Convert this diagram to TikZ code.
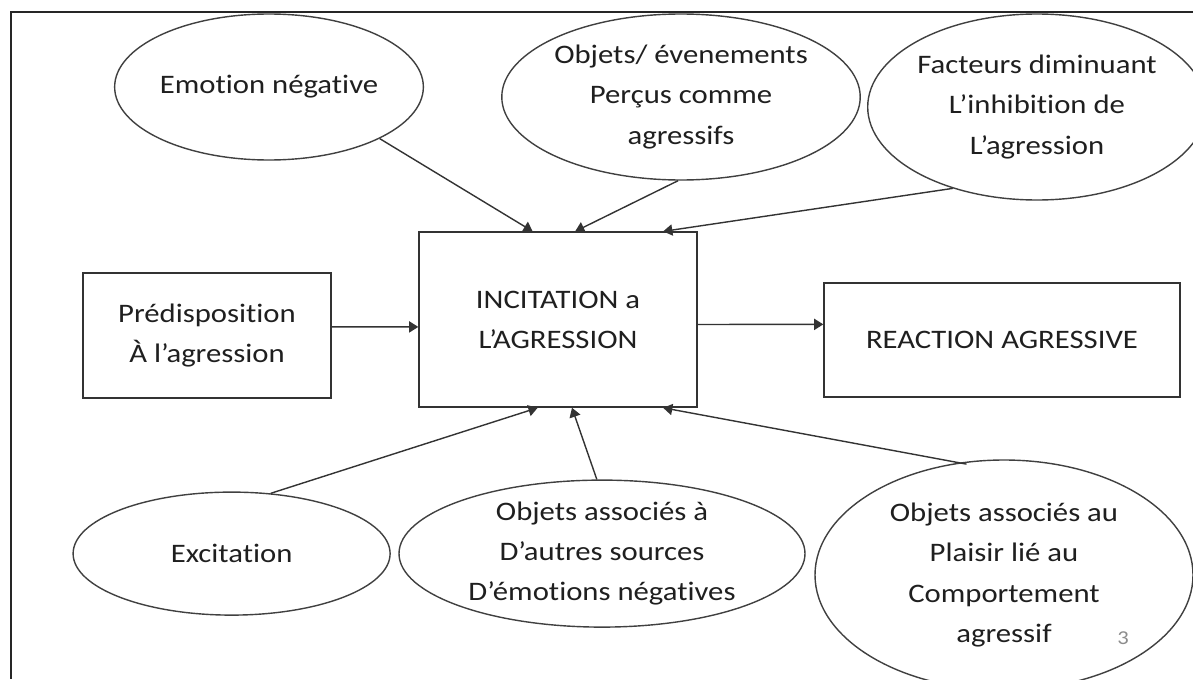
\documentclass[tikz,border=0pt]{standalone}
\usepackage{fontspec}
\setmainfont{Carlito}[FakeStretch=1.15, Ligatures=NoCommon]
\usepackage{tikz}
\usetikzlibrary{shapes, arrows.meta, positioning}
\tikzstyle{factor} = [ellipse, draw=black!75, line width=1pt, inner sep=0pt, align=center, text=black!88, font=\fontsize{19}{28.5}\selectfont]
\tikzstyle{stage} = [rectangle, draw=black!80, line width=1pt, inner sep=0pt, align=center, text=black!88, font=\fontsize{19}{28.5}\selectfont]
\tikzstyle{arrow} = [draw=black!80, line width=1pt, -{Triangle[length=2.3mm, width=2.8mm]}]

\begin{document}
\begin{tikzpicture}[node distance=6cm]
\useasboundingbox (0,0) rectangle (29.825,-16.975);
\clip (0,0) rectangle (29.825,-16.975);
\draw[line width=1.4pt, black!85] (29.825,-0.3) -- (0.275,-0.3) -- (0.275,-16.975);

\node (incit) [stage, minimum width=6.95cm, minimum height=4.375cm] at (13.95,-7.99) {INCITATION a\\L’AGRESSION};
\node (predisp) [stage, left of=incit, xshift=-2.775cm, yshift=-0.4cm, minimum width=6.2cm, minimum height=3.125cm] {Prédisposition\\À l’agression};
\node (reaction) [stage, right of=incit, xshift=5.1cm, yshift=-0.51cm, minimum width=8.9cm, minimum height=2.85cm] {REACTION AGRESSIVE};
\node (emotion) [factor, above of=incit, xshift=-7.225cm, yshift=-0.185cm, minimum width=6.8cm, minimum height=3.65cm] {Emotion négative};
\node (objets) [factor, right of=emotion, xshift=4.3cm, yshift=-0.25cm, minimum width=8.7cm, minimum height=4.15cm] {Objets/ évenements\\Perçus comme\\agressifs};
\node (facteurs) [factor, right of=objets, xshift=2.9cm, yshift=-0.25cm, minimum width=7.75cm, minimum height=4.65cm] {Facteurs diminuant\\L’inhibition de\\L’agression};
\node (excit) [factor, below of=incit, xshift=-8.16cm, yshift=0.15cm, minimum width=7.925cm, minimum height=3.075cm] {Excitation};
\node (autres) [factor, right of=excit, xshift=3.26cm, minimum width=10.15cm, minimum height=3.675cm] {Objets associés à\\D’autres sources\\D’émotions négatives};
\node (plaisir) [factor, right of=autres, xshift=4.05cm, yshift=-0.535cm, minimum width=9.45cm, minimum height=5.75cm] {Objets associés au\\Plaisir lié au\\Comportement\\agressif};
\node (pagenum) [text=black!45, font=\fontsize{14}{16}\selectfont] at (28.075,-15.95) {3};

\draw[arrow] (emotion.-25) -- (incit.106);
\draw[arrow] (objets.-92) -- (incit.79);
\draw[arrow] (facteurs.-136) -- (incit.40);
\draw[arrow] (predisp.4) -- (incit.183);
\draw[arrow] (incit.-2.7) -- (reaction.175.5);
\draw[arrow] (excit.57) -- (incit.-103.5);
\draw[arrow] (autres.94) -- (incit.-81.5);
\draw[arrow, shorten <=-0.2cm] (plaisir.112) -- (incit.-40);
\end{tikzpicture}
\end{document}
